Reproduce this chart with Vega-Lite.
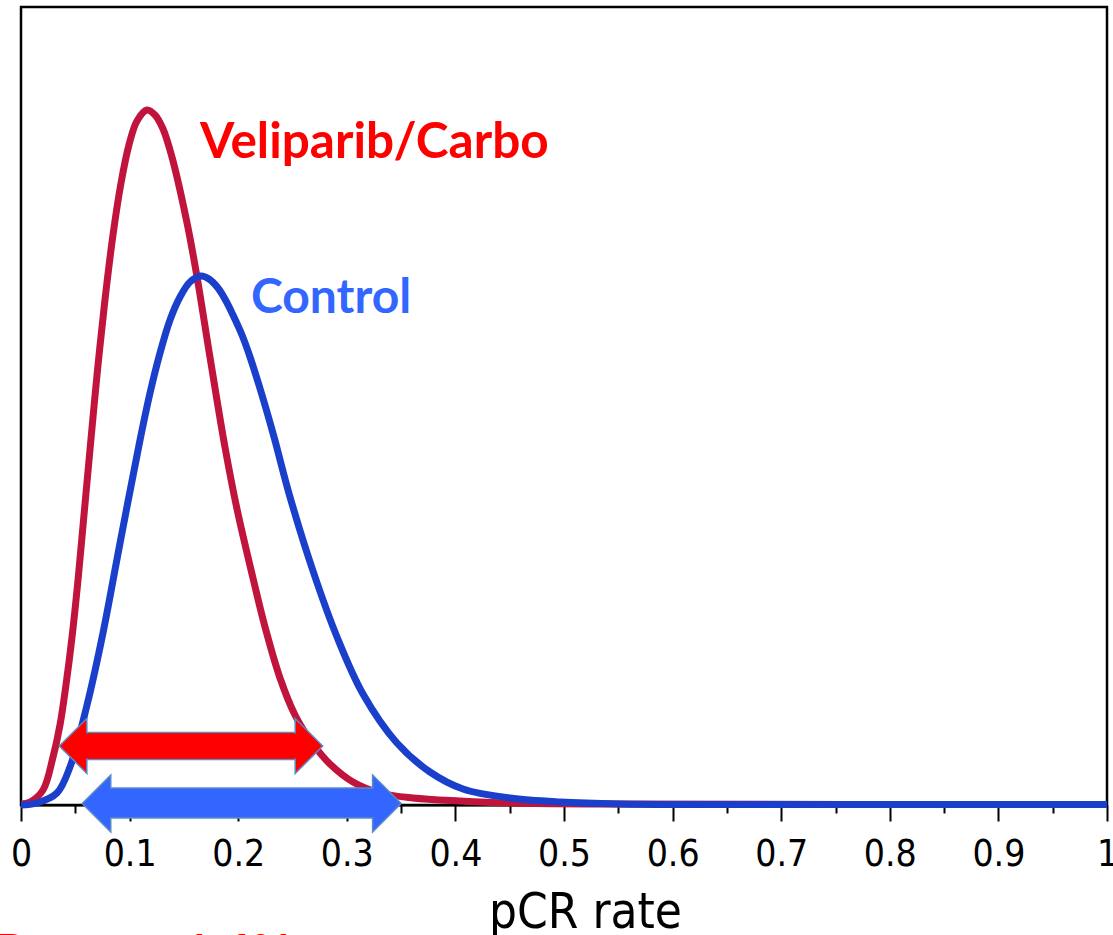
{
  "$schema": "https://vega.github.io/schema/vega-lite/v6.json",
  "width": 1086,
  "height": 798,
  "autosize": {"type": "none"},
  "padding": {"left": 21, "top": 7, "right": 6, "bottom": 130},
  "background": "white",
  "config": {"view": {"stroke": "black", "strokeWidth": 2.5}},
  "datasets": {
    "curves": [
      {"arm": "Veliparib/Carbo", "pcr": 0.0, "density": 1},
      {"arm": "Veliparib/Carbo", "pcr": 0.0083, "density": 3},
      {"arm": "Veliparib/Carbo", "pcr": 0.0203, "density": 15},
      {"arm": "Veliparib/Carbo", "pcr": 0.0295, "density": 48},
      {"arm": "Veliparib/Carbo", "pcr": 0.0359, "density": 80},
      {"arm": "Veliparib/Carbo", "pcr": 0.0414, "density": 120},
      {"arm": "Veliparib/Carbo", "pcr": 0.047, "density": 168},
      {"arm": "Veliparib/Carbo", "pcr": 0.0525, "density": 225},
      {"arm": "Veliparib/Carbo", "pcr": 0.058, "density": 290},
      {"arm": "Veliparib/Carbo", "pcr": 0.0635, "density": 355},
      {"arm": "Veliparib/Carbo", "pcr": 0.07, "density": 430},
      {"arm": "Veliparib/Carbo", "pcr": 0.0773, "density": 505},
      {"arm": "Veliparib/Carbo", "pcr": 0.0847, "density": 570},
      {"arm": "Veliparib/Carbo", "pcr": 0.0921, "density": 622},
      {"arm": "Veliparib/Carbo", "pcr": 0.0994, "density": 660},
      {"arm": "Veliparib/Carbo", "pcr": 0.1068, "density": 684},
      {"arm": "Veliparib/Carbo", "pcr": 0.116, "density": 695},
      {"arm": "Veliparib/Carbo", "pcr": 0.1234, "density": 690},
      {"arm": "Veliparib/Carbo", "pcr": 0.1308, "density": 676},
      {"arm": "Veliparib/Carbo", "pcr": 0.139, "density": 648},
      {"arm": "Veliparib/Carbo", "pcr": 0.1529, "density": 582},
      {"arm": "Veliparib/Carbo", "pcr": 0.1621, "density": 528},
      {"arm": "Veliparib/Carbo", "pcr": 0.174, "density": 448},
      {"arm": "Veliparib/Carbo", "pcr": 0.1878, "density": 358},
      {"arm": "Veliparib/Carbo", "pcr": 0.1989, "density": 296},
      {"arm": "Veliparib/Carbo", "pcr": 0.2136, "density": 227},
      {"arm": "Veliparib/Carbo", "pcr": 0.2247, "density": 178},
      {"arm": "Veliparib/Carbo", "pcr": 0.2385, "density": 127},
      {"arm": "Veliparib/Carbo", "pcr": 0.2523, "density": 90},
      {"arm": "Veliparib/Carbo", "pcr": 0.2689, "density": 61},
      {"arm": "Veliparib/Carbo", "pcr": 0.2845, "density": 41},
      {"arm": "Veliparib/Carbo", "pcr": 0.3057, "density": 23},
      {"arm": "Veliparib/Carbo", "pcr": 0.3306, "density": 12},
      {"arm": "Veliparib/Carbo", "pcr": 0.361, "density": 7},
      {"arm": "Veliparib/Carbo", "pcr": 0.4042, "density": 4},
      {"arm": "Veliparib/Carbo", "pcr": 0.4503, "density": 2},
      {"arm": "Veliparib/Carbo", "pcr": 0.5331, "density": 1},
      {"arm": "Veliparib/Carbo", "pcr": 1.0, "density": 0.5},
      {"arm": "Control", "pcr": 0.0, "density": 0},
      {"arm": "Control", "pcr": 0.0147, "density": 2},
      {"arm": "Control", "pcr": 0.0331, "density": 12},
      {"arm": "Control", "pcr": 0.0451, "density": 38},
      {"arm": "Control", "pcr": 0.0608, "density": 100},
      {"arm": "Control", "pcr": 0.0755, "density": 172},
      {"arm": "Control", "pcr": 0.0912, "density": 262},
      {"arm": "Control", "pcr": 0.1096, "density": 365},
      {"arm": "Control", "pcr": 0.1188, "density": 412},
      {"arm": "Control", "pcr": 0.128, "density": 452},
      {"arm": "Control", "pcr": 0.1372, "density": 485},
      {"arm": "Control", "pcr": 0.1464, "density": 508},
      {"arm": "Control", "pcr": 0.1556, "density": 523},
      {"arm": "Control", "pcr": 0.1657, "density": 529},
      {"arm": "Control", "pcr": 0.1731, "density": 526},
      {"arm": "Control", "pcr": 0.1814, "density": 517},
      {"arm": "Control", "pcr": 0.1888, "density": 504},
      {"arm": "Control", "pcr": 0.1952, "density": 490},
      {"arm": "Control", "pcr": 0.2035, "density": 470},
      {"arm": "Control", "pcr": 0.2109, "density": 448},
      {"arm": "Control", "pcr": 0.2219, "density": 410},
      {"arm": "Control", "pcr": 0.233, "density": 368},
      {"arm": "Control", "pcr": 0.2477, "density": 308},
      {"arm": "Control", "pcr": 0.2689, "density": 234},
      {"arm": "Control", "pcr": 0.291, "density": 168},
      {"arm": "Control", "pcr": 0.3149, "density": 111},
      {"arm": "Control", "pcr": 0.3462, "density": 62},
      {"arm": "Control", "pcr": 0.3766, "density": 33},
      {"arm": "Control", "pcr": 0.407, "density": 16},
      {"arm": "Control", "pcr": 0.4503, "density": 7},
      {"arm": "Control", "pcr": 0.4963, "density": 3},
      {"arm": "Control", "pcr": 0.5516, "density": 1},
      {"arm": "Control", "pcr": 0.6252, "density": 0.5},
      {"arm": "Control", "pcr": 1.0, "density": 0.5}
    ],
    "intervals": [
      {"arm": "Veliparib/Carbo", "lo": 0.0353, "hi": 0.2778},
      {"arm": "Control", "lo": 0.0564, "hi": 0.35}
    ]
  },
  "layer": [
    {
      "data": {"name": "curves"},
      "transform": [{"filter": "datum.arm === 'Veliparib/Carbo'"}],
      "mark": {"type": "line", "color": "#C0143C", "strokeWidth": 7, "interpolate": "catmull-rom"},
      "encoding": {
        "x": {
          "field": "pcr",
          "type": "quantitative",
          "scale": {"domain": [0, 1], "nice": false, "zero": false},
          "axis": {
            "values": [0, 0.05, 0.1, 0.15, 0.2, 0.25, 0.3, 0.35, 0.4, 0.45, 0.5, 0.55, 0.6, 0.65, 0.7, 0.75, 0.8, 0.85, 0.9, 0.95, 1],
            "labelExpr": "round(datum.value * 20) % 2 === 0 ? '' + round(datum.value * 10) / 10 : ''",
            "tickSize": {"condition": {"test": "round(datum.value * 20) % 2 === 0", "value": 16}, "value": 8},
            "tickColor": "black",
            "tickWidth": 2,
            "domainColor": "black",
            "domainWidth": 2,
            "grid": false,
            "labelFont": "DejaVu Sans Condensed, DejaVu Sans",
            "labelFontSize": 37,
            "labelColor": "black",
            "labelPadding": 15,
            "labelFlush": false,
            "labelOverlap": false,
            "title": "pCR rate",
            "titleFont": "DejaVu Sans Condensed, DejaVu Sans",
            "titleFontSize": 49,
            "titleFontWeight": "normal",
            "titleColor": "black",
            "titleX": 564,
            "titleY": 122,
            "titleAlign": "center",
            "titleBaseline": "alphabetic"
          }
        },
        "y": {
          "field": "density",
          "type": "quantitative",
          "scale": {"domain": [0, 798], "nice": false, "zero": true},
          "axis": null
        }
      }
    },
    {
      "data": {"name": "curves"},
      "transform": [{"filter": "datum.arm === 'Control'"}],
      "mark": {"type": "line", "color": "#1A3FCA", "strokeWidth": 7, "interpolate": "catmull-rom"},
      "encoding": {
        "x": {"field": "pcr", "type": "quantitative"},
        "y": {"field": "density", "type": "quantitative"}
      }
    },
    {
      "data": {"name": "intervals"},
      "transform": [{"filter": "datum.arm === 'Veliparib/Carbo'"}],
      "layer": [
        {
          "mark": {"type": "rect", "fill": "#FF0000", "stroke": "#5B8AC6", "strokeWidth": 1.5, "xOffset": 27.5, "x2Offset": -27.5},
          "encoding": {
            "x": {"field": "lo", "type": "quantitative"},
            "x2": {"field": "hi"},
            "y": {"datum": 72.5},
            "y2": {"datum": 45.5}
          }
        },
        {
          "mark": {"type": "point", "shape": "M0,0L1,-1L1,1Z", "size": 3025, "filled": true, "fill": "#FF0000", "stroke": "#5B8AC6", "strokeWidth": 1.5, "opacity": 1},
          "encoding": {"x": {"field": "lo", "type": "quantitative"}, "y": {"datum": 59}}
        },
        {
          "mark": {"type": "point", "shape": "M0,0L-1,-1L-1,1Z", "size": 3025, "filled": true, "fill": "#FF0000", "stroke": "#5B8AC6", "strokeWidth": 1.5, "opacity": 1},
          "encoding": {"x": {"field": "hi", "type": "quantitative"}, "y": {"datum": 59}}
        },
        {
          "mark": {"type": "rect", "fill": "#FF0000", "xOffset": 25, "x2Offset": -25, "yOffset": 1, "y2Offset": -1},
          "encoding": {
            "x": {"field": "lo", "type": "quantitative"},
            "x2": {"field": "hi"},
            "y": {"datum": 72.5},
            "y2": {"datum": 45.5}
          }
        }
      ]
    },
    {
      "data": {"name": "intervals"},
      "transform": [{"filter": "datum.arm === 'Control'"}],
      "layer": [
        {
          "mark": {"type": "rect", "fill": "#3366FF", "stroke": "#5B8AC6", "strokeWidth": 1.5, "xOffset": 28.5, "x2Offset": -28.5},
          "encoding": {
            "x": {"field": "lo", "type": "quantitative"},
            "x2": {"field": "hi"},
            "y": {"datum": 17},
            "y2": {"datum": -13}
          }
        },
        {
          "mark": {"type": "point", "shape": "M0,0L1,-1L1,1Z", "size": 3249, "filled": true, "fill": "#3366FF", "stroke": "#5B8AC6", "strokeWidth": 1.5, "opacity": 1},
          "encoding": {"x": {"field": "lo", "type": "quantitative"}, "y": {"datum": 1.5}}
        },
        {
          "mark": {"type": "point", "shape": "M0,0L-1,-1L-1,1Z", "size": 3249, "filled": true, "fill": "#3366FF", "stroke": "#5B8AC6", "strokeWidth": 1.5, "opacity": 1},
          "encoding": {"x": {"field": "hi", "type": "quantitative"}, "y": {"datum": 1.5}}
        },
        {
          "mark": {"type": "rect", "fill": "#3366FF", "xOffset": 26, "x2Offset": -26, "yOffset": 1, "y2Offset": -1},
          "encoding": {
            "x": {"field": "lo", "type": "quantitative"},
            "x2": {"field": "hi"},
            "y": {"datum": 17},
            "y2": {"datum": -13}
          }
        }
      ]
    },
    {
      "data": {"values": [{}]},
      "mark": {"type": "text", "text": "Veliparib/Carbo", "font": "Lato", "fontWeight": "bold", "fontSize": 49.5, "color": "#FF0000", "align": "left", "baseline": "alphabetic"},
      "encoding": {"x": {"datum": 0.1648}, "y": {"datum": 647}}
    },
    {
      "data": {"values": [{}]},
      "mark": {"type": "text", "text": "Control", "font": "Lato", "fontWeight": "bold", "fontSize": 48, "color": "#3366FF", "align": "left", "baseline": "alphabetic"},
      "encoding": {"x": {"datum": 0.2118}, "y": {"datum": 492}}
    },
    {
      "data": {"values": [{}]},
      "mark": {"type": "text", "text": "Power = 1.6%", "font": "Lato", "fontWeight": "bold", "fontSize": 48, "color": "#FF0000", "align": "left", "baseline": "alphabetic"},
      "encoding": {"x": {"datum": -0.023}, "y": {"datum": -164}}
    }
  ]
}
